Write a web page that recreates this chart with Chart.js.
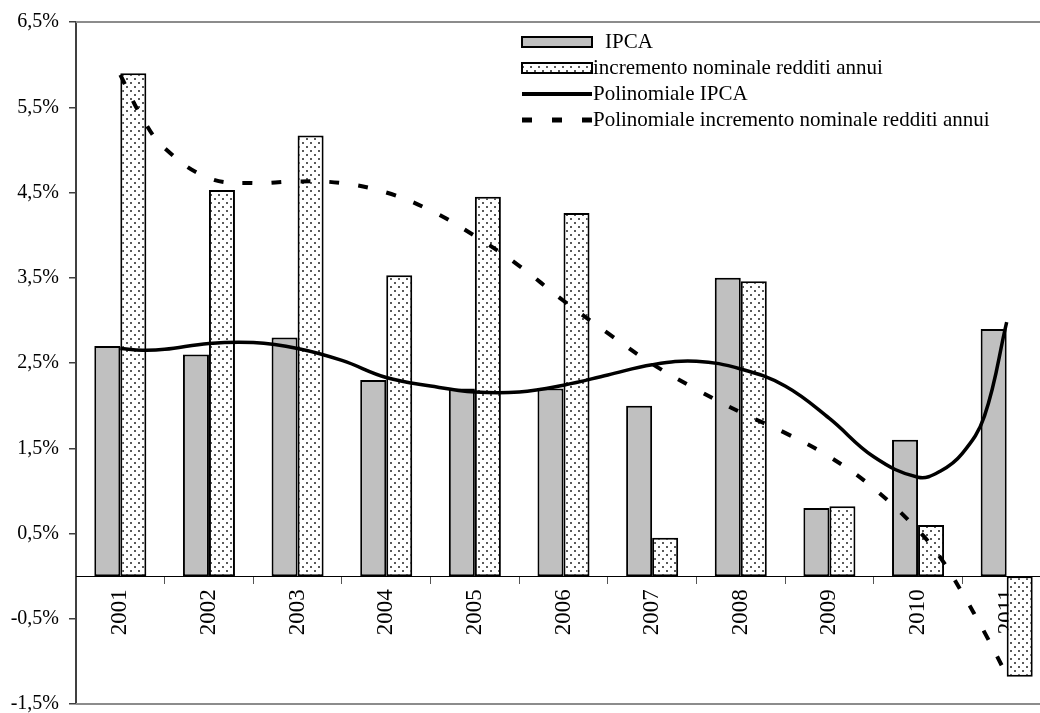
<!DOCTYPE html>
<html>
<head>
<meta charset="utf-8">
<title>IPCA e redditi</title>
<script src="https://cdn.jsdelivr.net/npm/chart.js@4/dist/chart.umd.min.js"></script>
<style>
  html, body { margin: 0; padding: 0; background: #fff; overflow: hidden; }
  #wrap { width: 1052px; height: 730px; }
</style>
</head>
<body>
<div id="wrap"><canvas id="chart" width="1052" height="730"></canvas></div>
<script>
// ---- data ----
const years = ["2001", "2002", "2003", "2004", "2005", "2006", "2007", "2008", "2009", "2010", "2011"];
const ipca = [2.7, 2.6, 2.8, 2.3, 2.2, 2.2, 2.0, 3.5, 0.8, 1.6, 2.9];
const redditi = [5.9, 4.53, 5.17, 3.53, 4.45, 4.26, 0.45, 3.46, 0.82, 0.6, -1.18];

// trend curves (position = category index)
const trendPos = [0, 0.25, 0.5, 1, 1.5, 2, 2.5, 3, 3.5, 4, 4.5, 5, 5.5, 6, 6.5, 7, 7.5, 8, 8.5, 9, 9.25, 9.5, 9.75, 10];
const polyIpca = [2.67, 2.65, 2.66, 2.73, 2.74, 2.67, 2.53, 2.33, 2.23, 2.16, 2.16, 2.24, 2.36, 2.48, 2.52, 2.43, 2.23, 1.85, 1.40, 1.16, 1.23, 1.44, 1.88, 2.98];
const polyRedditi = [5.88, 5.37, 5.02, 4.67, 4.61, 4.63, 4.61, 4.50, 4.29, 3.99, 3.64, 3.23, 2.85, 2.49, 2.19, 1.92, 1.68, 1.40, 1.03, 0.54, 0.22, -0.20, -0.66, -1.16];

const yTicks = [-1.5, -0.5, 0.5, 1.5, 2.5, 3.5, 4.5, 5.5, 6.5];

const FONT = "'Liberation Serif', 'Times New Roman', serif";

// dotted fill like the spreadsheet pattern
function dotPattern(ctx) {
    const tile = document.createElement("canvas");
    tile.width = 8;
    tile.height = 8;
    const t = tile.getContext("2d");
    t.fillStyle = "#fff";
    t.fillRect(0, 0, 8, 8);
    t.fillStyle = "#5a5a5a";
    t.fillRect(2, 2, 2, 2);
    t.fillRect(6, 6, 2, 2);
    return ctx.createPattern(tile, "repeat");
}

// gray frame lines at top and bottom of the plot
const frame = {
    id: "frame",
    beforeDatasetsDraw(chart) {
        const { ctx, chartArea: a } = chart;
        ctx.save();
        ctx.strokeStyle = "#8c8c8c";
        ctx.lineWidth = 2;
        ctx.beginPath();
        ctx.moveTo(a.left, a.top);
        ctx.lineTo(a.right, a.top);
        ctx.moveTo(a.left, a.bottom);
        ctx.lineTo(a.right, a.bottom);
        ctx.stroke();
        ctx.restore();
    },
};

// legend drawn inside the plot, top right
const legendBox = {
    id: "legendBox",
    afterDraw(chart) {
        const ctx = chart.ctx;
        const ds = chart.data.datasets;
        const x0 = 522, x1 = 592;
        const rows = [42, 68, 94, 120];
        ctx.save();

        ctx.lineWidth = 2;
        ctx.strokeStyle = "#000";
        ctx.fillStyle = "#c0c0c0";
        ctx.fillRect(x0, rows[0] - 5, x1 - x0, 10);
        ctx.strokeRect(x0, rows[0] - 5, x1 - x0, 10);

        ctx.fillStyle = ds[1].backgroundColor;
        ctx.fillRect(x0, rows[1] - 5, x1 - x0, 10);
        ctx.strokeRect(x0, rows[1] - 5, x1 - x0, 10);

        ctx.lineWidth = 4;
        ctx.beginPath();
        ctx.moveTo(x0, rows[2]);
        ctx.lineTo(x1, rows[2]);
        ctx.stroke();

        ctx.lineWidth = 5;
        ctx.beginPath();
        [x0, x0 + 30, x0 + 60].forEach((x) => {
            ctx.moveTo(x, rows[3]);
            ctx.lineTo(x + 10, rows[3]);
        });
        ctx.stroke();

        ctx.fillStyle = "#000";
        ctx.font = "21px " + FONT;
        ctx.textBaseline = "middle";
        ctx.textAlign = "left";
        ctx.fillText(ds[0].label, 605, rows[0]);
        ctx.fillText(ds[1].label, 593, rows[1]);
        ctx.fillText(ds[2].label, 593, rows[2]);
        ctx.fillText(ds[3].label, 593, rows[3]);
        ctx.restore();
    },
};

const canvas = document.getElementById("chart");
const ctx = canvas.getContext("2d");

new Chart(ctx, {
    type: "line",
    data: {
        labels: years,
        datasets: [
            {
                type: "bar",
                indexAxis: "x",
                label: "IPCA",
                data: ipca,
                backgroundColor: "#c0c0c0",
                borderColor: "#000",
                borderWidth: 2,
                borderSkipped: false,
                categoryPercentage: 0.587,
                barPercentage: 1,
                order: 2,
            },
            {
                type: "bar",
                indexAxis: "x",
                label: "incremento nominale redditi annui",
                data: redditi,
                backgroundColor: dotPattern(ctx),
                borderColor: "#000",
                borderWidth: 2,
                borderSkipped: false,
                categoryPercentage: 0.587,
                barPercentage: 1,
                order: 2,
            },
            {
                type: "line",
                indexAxis: "x",
                label: "Polinomiale IPCA",
                xAxisID: "xt",
                data: trendPos.map((p, i) => ({ x: p, y: polyIpca[i] })),
                borderColor: "#000",
                borderWidth: 3.5,
                pointRadius: 0,
                tension: 0.4,
                fill: false,
                order: 1,
            },
            {
                type: "line",
                indexAxis: "x",
                label: "Polinomiale incremento nominale redditi annui",
                xAxisID: "xt",
                data: trendPos.map((p, i) => ({ x: p, y: polyRedditi[i] })),
                borderColor: "#000",
                borderWidth: 4,
                borderDash: [10, 19],
                pointRadius: 0,
                tension: 0.4,
                fill: false,
                order: 0,
            },
        ],
    },
    options: {
        // chart-level "y" keeps Chart.js 4.5 from splitting the bar slots
        // between the category axis and the hidden trend axis
        indexAxis: "y",
        responsive: false,
        animation: false,
        layout: { padding: { top: 22, bottom: 26, left: 0, right: 1 } },
        plugins: {
            legend: { display: false },
            tooltip: { enabled: false },
        },
        scales: {
            y: {
                type: "linear",
                offset: false,
                min: -1.5,
                max: 6.5,
                afterFit: (scale) => { scale.width = 76; },
                afterBuildTicks: (scale) => { scale.ticks = yTicks.map((v) => ({ value: v })); },
                ticks: {
                    color: "#000",
                    padding: 10,
                    font: { family: FONT, size: 20 },
                    callback: (v) => v.toFixed(1).replace(".", ",") + "%",
                },
                grid: { offset: false, drawOnChartArea: false, tickLength: 7, color: "#404040", lineWidth: 1.5 },
                border: { color: "#404040", width: 2 },
            },
            x: {
                type: "category",
                position: { y: 0 },
                offset: true,
                z: 1,
                ticks: {
                    color: "#000",
                    minRotation: 90,
                    maxRotation: 90,
                    autoSkip: false,
                    padding: 6,
                    font: { family: FONT, size: 23 },
                },
                grid: { offset: true, drawOnChartArea: false, tickLength: 7, color: "#555" },
                border: { color: "#000", width: 1 },
            },
            xt: {
                type: "linear",
                display: false,
                offset: false,
                min: -0.5,
                max: 10.5,
            },
        },
    },
    plugins: [frame, legendBox],
});
</script>
</body>
</html>
